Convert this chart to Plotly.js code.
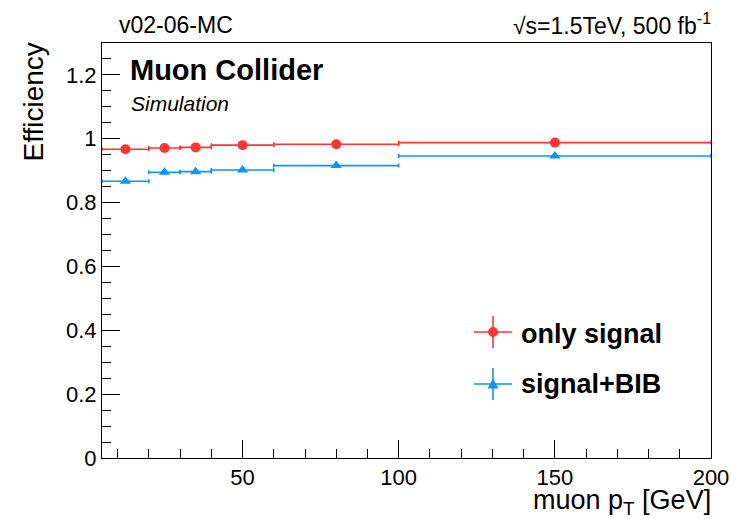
<!DOCTYPE html>
<html>
<head>
<meta charset="utf-8">
<script src="https://cdn.plot.ly/plotly-3.0.1.min.js"></script>
<style>html,body{margin:0;padding:0;background:#fff;}#plot{width:744px;height:519px;}</style>
</head>
<body>
<div id="plot"></div>
<script>
// ---- data ----
const binCenters = [12.5, 25, 35, 50, 80, 150];
const binLow     = [5, 20, 30, 40, 60, 100];
const binHigh    = [20, 30, 40, 60, 100, 200];
const effSignal    = [0.967, 0.971, 0.973, 0.980, 0.983, 0.988];
const effSignalBIB = [0.867, 0.895, 0.897, 0.902, 0.916, 0.946];
const seriesNames = ["only signal", "signal+BIB"];
const xTickVals = [50, 100, 150, 200];

const RED = "#ff3535";
const BLUE = "#0a96f5";
const FONT = "Liberation Sans, Arial, Helvetica, sans-serif";

const W = 744, H = 519, L = 102, R = 711, T = 43, B = 458;
const px = x => (x - L) / (R - L);
const py = y => (B - y) / (B - T);

const errPlus = binCenters.map((c, i) => binHigh[i] - c);
const errMinus = binCenters.map((c, i) => c - binLow[i]);

function trace(name, y, color, symbol, size) {
  return {
    type: "scatter", mode: "markers", name: name,
    x: binCenters, y: y,
    marker: {color: color, size: size, symbol: symbol},
    error_x: {type: "data", symmetric: false, array: errPlus, arrayminus: errMinus,
              color: color, thickness: 1.6, width: 2},
    showlegend: false, hoverinfo: "skip"
  };
}

const data = [
  trace(seriesNames[0], effSignal, RED, "circle", 10),
  trace(seriesNames[1], effSignalBIB, BLUE, "triangle-up", 10)
];

function ann(text, x, y, size, xanchor, extra) {
  return Object.assign({
    text: text, xref: "paper", yref: "paper", x: px(x), y: py(y),
    xanchor: xanchor, yanchor: "middle", showarrow: false,
    font: {family: FONT, size: size, color: "#000"}
  }, extra || {});
}

// legend symbols (ROOT style "lep")
function legendSym(cx, cy, color, symbolShape) {
  return [
    {type: "line", xref: "paper", yref: "paper", x0: px(cx - 19), x1: px(cx + 19), y0: py(cy), y1: py(cy),
     line: {color: color, width: 1.6}},
    {type: "line", xref: "paper", yref: "paper", x0: px(cx), x1: px(cx), y0: py(cy - 16), y1: py(cy + 16),
     line: {color: color, width: 1.6}},
    symbolShape
  ];
}
const shapes = [].concat(
  legendSym(493, 332, RED, {type: "circle", xref: "paper", yref: "paper",
    x0: px(488), x1: px(498), y0: py(337), y1: py(327), fillcolor: RED, line: {width: 0}}),
  legendSym(493, 384, BLUE, {type: "path", xref: "paper", yref: "paper",
    path: `M ${px(487.5)} ${py(388.5)} L ${px(498.5)} ${py(388.5)} L ${px(493)} ${py(378.5)} Z`,
    fillcolor: BLUE, line: {width: 0}})
);

const layout = {
  width: W, height: H,
  margin: {l: L, r: W - R, t: T, b: H - B},
  paper_bgcolor: "#fff", plot_bgcolor: "#fff",
  font: {family: FONT, size: 22, color: "#000"},
  xaxis: {
    range: [5, 200], tickvals: xTickVals, ticktext: xTickVals.map(String),
    ticks: "inside", ticklen: 18, tickwidth: 1, tickcolor: "#000",
    minor: {ticks: "inside", ticklen: 9, dtick: 10, tick0: 0, tickcolor: "#000", tickwidth: 1},
    showline: true, linecolor: "#000", linewidth: 1, mirror: true,
    showgrid: false, zeroline: false,
    tickfont: {family: FONT, size: 22, color: "#000"}
  },
  yaxis: {
    range: [0, 1.3], dtick: 0.2, tick0: 0,
    ticks: "inside", ticklen: 18, tickwidth: 1, tickcolor: "#000",
    minor: {ticks: "inside", ticklen: 9, dtick: 0.05, tick0: 0, tickcolor: "#000", tickwidth: 1},
    showline: true, linecolor: "#000", linewidth: 1, mirror: true,
    showgrid: false, zeroline: false,
    tickfont: {family: FONT, size: 22, color: "#000"},
    tickformat: "~g"
  },
  shapes: shapes,
  annotations: [
    ann("v02-06-MC", 117, 25, 23, "left"),
    ann("√s=1.5TeV, 500 fb<sup>-1</sup>", 713, 24, 23, "right"),
    ann("<b>Muon Collider</b>", 128, 70, 29, "left"),
    ann("<i>Simulation</i>", 129, 103, 21, "left"),
    ann("<b>" + seriesNames[0] + "</b>", 519, 334, 27, "left"),
    ann("<b>" + seriesNames[1] + "</b>", 519, 384, 27, "left"),
    ann("Efficiency", 33, 41, 28, "center", {textangle: -90, yanchor: "top"}),
    ann("muon p<sub>T</sub> [GeV]", 713, 502, 27, "right")
  ]
};

Plotly.newPlot("plot", data, layout, {staticPlot: true, displayModeBar: false});
</script>
</body>
</html>
